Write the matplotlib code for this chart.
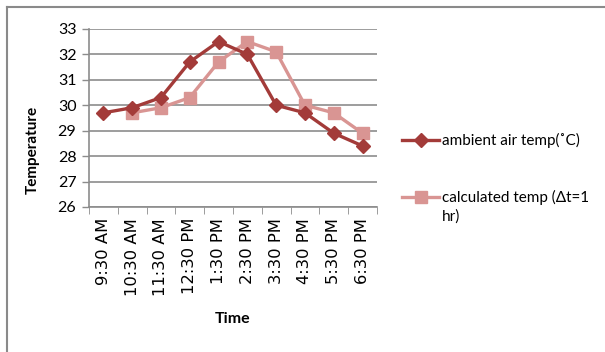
import matplotlib
matplotlib.use("Agg")
import matplotlib.pyplot as plt
import numpy as np

# Hourly readings
times = ["9:30 AM", "10:30 AM", "11:30 AM", "12:30 PM", "1:30 PM",
         "2:30 PM", "3:30 PM", "4:30 PM", "5:30 PM", "6:30 PM"]
ambient = [29.7, 29.9, 30.3, 31.7, 32.5, 32.0, 30.0, 29.7, 28.9, 28.4]
calculated = [np.nan, 29.7, 29.9, 30.3, 31.7, 32.5, 32.1, 30.0, 29.7, 28.9]
y_ticks = [26, 27, 28, 29, 30, 31, 32, 33]

dark_red = "#A33B39"
pink = "#D99593"
grid_col = "#8C8C8C"

plt.rcParams["font.family"] = ["Lato", "DejaVu Sans"]

fig = plt.figure(figsize=(6.05, 3.52), dpi=100)
ax = fig.add_axes([0.147, 0.412, 0.476, 0.506])

x = np.arange(len(times))
ax.plot(x, ambient, color=dark_red, linewidth=2.4, marker="D", markersize=7.5,
        label="ambient air temp(˚C)", zorder=3)
ax.plot(x, calculated, color=pink, linewidth=2.4, marker="s", markersize=9,
        label="calculated temp (Δt=1", zorder=2)

ax.set_xlim(-0.5, len(times) - 0.5)
ax.set_ylim(26, 33)
ax.set_yticks(y_ticks)
ax.set_yticklabels([str(v) for v in y_ticks], fontsize=11.5)
ax.set_xticks(x)
ax.set_xticklabels(times, rotation=90, fontsize=11.8, family="DejaVu Sans")
ax.tick_params(axis="x", length=0, pad=8)
ax.set_xticks(np.arange(-0.5, len(times)), minor=True)
ax.tick_params(axis="x", which="minor", length=5, color=grid_col, direction="out")
ax.tick_params(axis="y", length=5, color=grid_col, width=1, pad=4)

ax.grid(axis="y", color=grid_col, linewidth=1.2)
ax.set_axisbelow(True)
for s in ["top", "right"]:
    ax.spines[s].set_visible(False)
for s in ["left", "bottom"]:
    ax.spines[s].set_color(grid_col)
    ax.spines[s].set_linewidth(1.2)

ax.set_ylabel("Temperature", fontsize=11, fontweight="bold", va="center")
ax.yaxis.set_label_coords(-0.194, 0.32)
ax.set_xlabel("Time", fontsize=11.5, fontweight="bold", va="top")
ax.xaxis.set_label_coords(0.5, -0.59)

leg = fig.legend(loc="upper left", bbox_to_anchor=(0.655, 0.64), frameon=False,
                 fontsize=11, handlelength=2.4, handletextpad=0.2, labelspacing=2.75,
                 borderaxespad=0)

# wrapped remainder of the second legend label
fig.canvas.draw()
bb = leg.get_texts()[1].get_window_extent()
fig.text(bb.x0 / fig.bbox.width, (bb.y0 - 19) / fig.bbox.height, "hr)",
         fontsize=11, va="bottom", ha="left")

# chart border
fig.add_artist(plt.Line2D([0.012, 1.0], [0.981, 0.981], transform=fig.transFigure,
                          color="#8A8A8A", linewidth=1.5))
fig.add_artist(plt.Line2D([0.012, 0.012], [0.0, 0.981], transform=fig.transFigure,
                          color="#8A8A8A", linewidth=1.5))

fig.savefig("out.png", dpi=100)
